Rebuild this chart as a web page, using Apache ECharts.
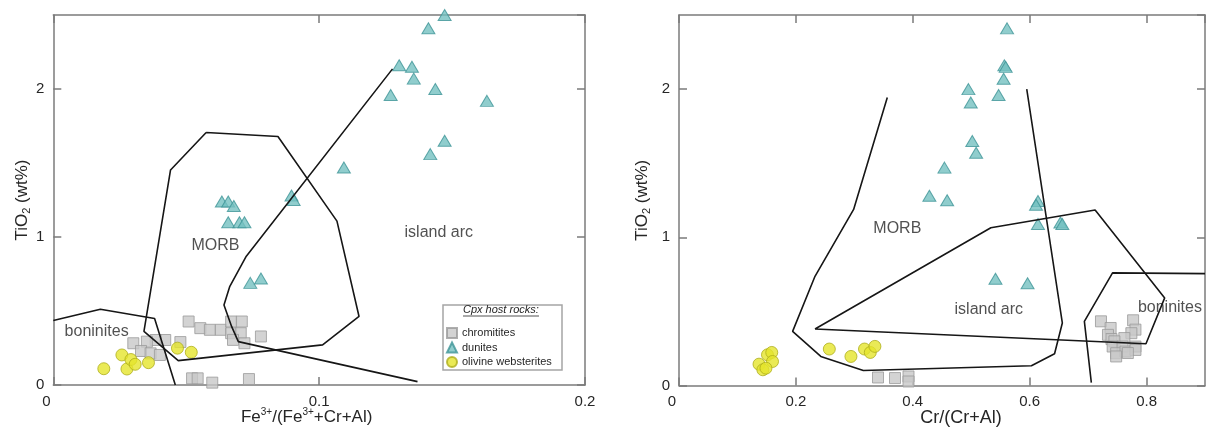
<!DOCTYPE html>
<html><head><meta charset="utf-8">
<script src="https://cdn.jsdelivr.net/npm/echarts@6/dist/echarts.min.js"></script>
<style>html,body{margin:0;padding:0;background:#fff}#c{width:1207px;height:427px}</style>
</head><body><div id="c"></div>
<script>
// ---------- LEFT PANEL: Fe3+/(Fe3++Cr+Al) vs TiO2 ----------
const leftX = {min: 0, max: 0.2, interval: 0.1};
const yRange = {min: 0, max: 2.5, interval: 1};
const leftChromitites = [
  [0.0509,0.429],[0.0553,0.384],[0.0589,0.373],[0.0630,0.373],[0.0669,0.429],[0.0709,0.429],
  [0.0669,0.350],[0.0705,0.350],[0.0676,0.305],[0.0719,0.282],[0.0781,0.328],[0.0478,0.290],
  [0.0421,0.304],[0.0385,0.304],[0.0352,0.293],[0.0301,0.282],[0.0330,0.230],[0.0366,0.214],
  [0.0401,0.203],[0.0522,0.045],[0.0543,0.045],[0.0598,0.016],[0.0736,0.040]
];
const leftDunites = [
  [0.1472,2.50],[0.1411,2.41],[0.1301,2.16],[0.1349,2.15],[0.1356,2.07],[0.1269,1.96],
  [0.1437,2.00],[0.1631,1.92],[0.1472,1.65],[0.1418,1.56],[0.1093,1.47],[0.0634,1.24],
  [0.0658,1.24],[0.0679,1.21],[0.0896,1.28],[0.0904,1.25],[0.0658,1.10],[0.0700,1.10],
  [0.0719,1.10],[0.0741,0.69],[0.0781,0.72]
];
const leftWebsterites = [
  [0.0190,0.110],[0.0258,0.203],[0.0277,0.108],[0.0292,0.172],[0.0308,0.140],
  [0.0358,0.151],[0.0467,0.249],[0.0519,0.221]
];
const leftBoninitesField = [[0,0.436],[0.0177,0.512],[0.0381,0.449],[0.0459,0]];
const leftMorbField = [[0.0575,1.706],[0.0845,1.679],[0.1067,1.107],[0.1150,0.463],[0.1013,0.271],
  [0.0470,0.165],[0.0341,0.362],[0.0441,1.453],[0.0575,1.706]];
const leftArcField = [[0.1276,2.136],[0.0726,0.870],[0.0664,0.667],[0.0642,0.540],[0.0671,0.394],
  [0.0696,0.293],[0.1370,0.0226]];
const leftFieldLabels = [[0.0610,0.945,'MORB'],[0.1450,1.028,'island arc'],[0.0163,0.360,'boninites']];

// ---------- RIGHT PANEL: Cr/(Cr+Al) vs TiO2 ----------
const rightX = {min: 0, max: 0.9, interval: 0.2};
const rightChromitites = [
  [0.3405,0.054],[0.3696,0.050],[0.3927,0.061],[0.3927,0.027],
  [0.722,0.433],[0.7385,0.388],[0.777,0.440],[0.781,0.377],[0.774,0.353],[0.734,0.342],
  [0.740,0.313],[0.762,0.320],[0.745,0.298],[0.742,0.263],[0.759,0.263],[0.781,0.263],
  [0.748,0.218],[0.764,0.229],[0.781,0.240],[0.748,0.196],[0.768,0.219]
];
const rightDunites = [
  [0.5587,2.507],[0.5613,2.41],[0.5567,2.16],[0.5590,2.15],[0.5554,2.07],[0.5468,1.96],
  [0.4952,2.00],[0.4992,1.91],[0.5018,1.65],[0.5084,1.57],[0.4542,1.47],[0.4284,1.28],
  [0.4588,1.25],[0.6142,1.245],[0.6109,1.22],[0.6142,1.09],[0.6526,1.10],[0.6559,1.09],
  [0.5415,0.72],[0.5964,0.69]
];
const rightWebsterites = [
  [0.1369,0.144],[0.1435,0.106],[0.1514,0.207],[0.1587,0.223],[0.1600,0.162],[0.1488,0.117],
  [0.2572,0.246],[0.2942,0.196],[0.3174,0.246],[0.3273,0.223],[0.3352,0.264]
];
const rightMorbField = [[0.3564,1.944],[0.2988,1.188],[0.2327,0.737],[0.1944,0.365],[0.2426,0.196],
  [0.3154,0.101],[0.6030,0.133],[0.6426,0.214],[0.6559,0.422],[0.5950,2.0]];
const rightArcField = [[0.2327,0.381],[0.5336,1.064],[0.7120,1.184],[0.8310,0.591],[0.7990,0.282],[0.2327,0.381]];
const rightBoninitesField = [[0.7055,0.02],[0.6936,0.433],[0.7418,0.760],[0.9,0.755]];
const rightFieldLabels = [[0.3736,1.057,'MORB'],[0.5300,0.512,'island arc'],[0.8400,0.523,'boninites']];

const legendNames = ['chromitites','dunites','olivine websterites'];

// ---------- build chart ----------
const FONT = '"Liberation Sans", Arial, sans-serif';
const AXC = '#7b7b7b';
const TXT = '#262626';
const chart = echarts.init(document.getElementById('c'));

function xAx(grid, r, pos, opts) {
  const main = pos === 'bottom';
  return Object.assign({
    type: 'value', gridIndex: grid, position: pos, min: r.min, max: r.max, interval: r.interval,
    nameMoveOverlap: false,
    axisLine: {show: true, onZero: false, lineStyle: {color: AXC, width: 1.5}},
    axisTick: {show: true, inside: true, length: 8, lineStyle: {color: AXC, width: 1.5}},
    splitLine: {show: false},
    axisLabel: main ? {
      show: true, margin: 9, fontSize: 15, color: TXT, fontFamily: FONT,
      showMaxLabel: r.max / r.interval === Math.round(r.max / r.interval),
      formatter: v => v === 0 ? '{z|0}' : String(v),
      rich: {z: {padding: [0, 14, 0, 0], fontSize: 15, color: TXT, fontFamily: FONT}}
    } : {show: false}
  }, opts || {});
}
function yAx(grid, pos, opts) {
  const main = pos === 'left';
  return Object.assign({
    type: 'value', gridIndex: grid, position: pos, min: yRange.min, max: yRange.max, interval: yRange.interval,
    nameMoveOverlap: false,
    axisLine: {show: true, onZero: false, lineStyle: {color: AXC, width: 1.5}},
    axisTick: {show: true, inside: true, length: 8, lineStyle: {color: AXC, width: 1.5}},
    splitLine: {show: false},
    axisLabel: main ? {show: true, margin: 9, fontSize: 15, color: TXT, fontFamily: FONT, showMaxLabel: false} : {show: false}
  }, opts || {});
}
const supRich = {
  n: {fontSize: 17, color: TXT, fontFamily: FONT, lineHeight: 20},
  sup: {fontSize: 10, color: TXT, fontFamily: FONT, verticalAlign: 'top', lineHeight: 20},
  sub: {fontSize: 11, color: TXT, fontFamily: FONT, verticalAlign: 'bottom', lineHeight: 16}
};
const yName = '{n|TiO}{sub|2}{n| (wt%)}';

function scatterSet(xi, chrom, dun, web) {
  return [
    {type: 'scatter', name: legendNames[0], xAxisIndex: xi, yAxisIndex: xi, data: chrom, symbol: 'rect', symbolSize: 11,
     itemStyle: {color: '#c8c8c8', borderColor: '#9a9a9a', borderWidth: 1}, z: 2},
    {type: 'scatter', name: legendNames[1], xAxisIndex: xi, yAxisIndex: xi, data: dun, symbol: 'triangle', symbolSize: [13, 11],
     itemStyle: {color: '#74c0c1', borderColor: '#3f9597', borderWidth: 1}, z: 2},
    {type: 'scatter', name: legendNames[2], xAxisIndex: xi, yAxisIndex: xi, data: web, symbol: 'circle', symbolSize: 12,
     itemStyle: {color: '#e5e52c', borderColor: '#aeae1c', borderWidth: 1}, z: 2}
  ];
}
function fieldLine(xi, d) {
  return {type: 'line', xAxisIndex: xi, yAxisIndex: xi, data: d, symbol: 'none', silent: true,
    lineStyle: {color: '#161616', width: 1.6}, z: 4, animation: false};
}
function labelSet(xi, d) {
  return {type: 'scatter', xAxisIndex: xi, yAxisIndex: xi, data: d, symbolSize: 1, silent: true,
    itemStyle: {color: 'rgba(0,0,0,0)'}, z: 3,
    label: {show: true, position: 'inside', formatter: p => p.data[2], fontSize: 16, color: TXT, fontFamily: FONT}};
}

const option = {
  animation: false,
  textStyle: {fontFamily: FONT},
  grid: [
    {left: 53.3, right: 622, top: 15, bottom: 42, outerBoundsMode: 'none', containLabel: false},
    {left: 679, right: 2, top: 15, bottom: 41.5, outerBoundsMode: 'none', containLabel: false}
  ],
  xAxis: [
    xAx(0, leftX, 'bottom', {name: '{n|Fe}{sup|3+}{n|/(Fe}{sup|3+}{n|+Cr+Al)}', nameLocation: 'middle', nameGap: 22.5,
      nameTextStyle: {rich: supRich, padding: [0, 25, 0, 0]}}),
    xAx(0, leftX, 'top'),
    xAx(1, rightX, 'bottom', {name: '{n|Cr/(Cr+Al)}', nameLocation: 'middle', nameGap: 22.5,
      nameTextStyle: {rich: Object.assign({}, supRich, {n: Object.assign({}, supRich.n, {fontSize: 18})}), padding: [0, 0, 0, 38]}}),
    xAx(1, rightX, 'top')
  ],
  yAxis: [
    yAx(0, 'left', {name: yName, nameLocation: 'middle', nameGap: 21, nameTextStyle: {rich: supRich}}),
    yAx(0, 'right'),
    yAx(1, 'left', {name: yName, nameLocation: 'middle', nameGap: 27, nameTextStyle: {rich: supRich}}),
    yAx(1, 'right')
  ],
  legend: {
    data: legendNames, orient: 'vertical', left: 446, top: 327, padding: 0,
    itemWidth: 10, itemHeight: 10, itemGap: 2.5, selectedMode: false,
    textStyle: {fontSize: 11, color: TXT, fontFamily: FONT, lineHeight: 12}
  },
  graphic: [
    {type: 'rect', shape: {x: 443, y: 305, width: 119, height: 65}, style: {fill: '#fff', stroke: '#a5a5a5', lineWidth: 1.5}, z: 3},
    {type: 'text', x: 463, y: 304, style: {text: 'Cpx host rocks:', font: 'italic 11px "Liberation Sans", Arial', fill: TXT}, z: 5},
    {type: 'line', shape: {x1: 463, y1: 316, x2: 539, y2: 316}, style: {stroke: TXT, lineWidth: 0.8}, z: 5}
  ],
  series: [].concat(
    scatterSet(0, leftChromitites, leftDunites, leftWebsterites),
    [fieldLine(0, leftBoninitesField), fieldLine(0, leftMorbField), fieldLine(0, leftArcField), labelSet(0, leftFieldLabels)],
    scatterSet(2, rightChromitites, rightDunites, rightWebsterites),
    [fieldLine(2, rightMorbField), fieldLine(2, rightArcField), fieldLine(2, rightBoninitesField), labelSet(2, rightFieldLabels)]
  )
};
chart.setOption(option);
</script></body></html>
